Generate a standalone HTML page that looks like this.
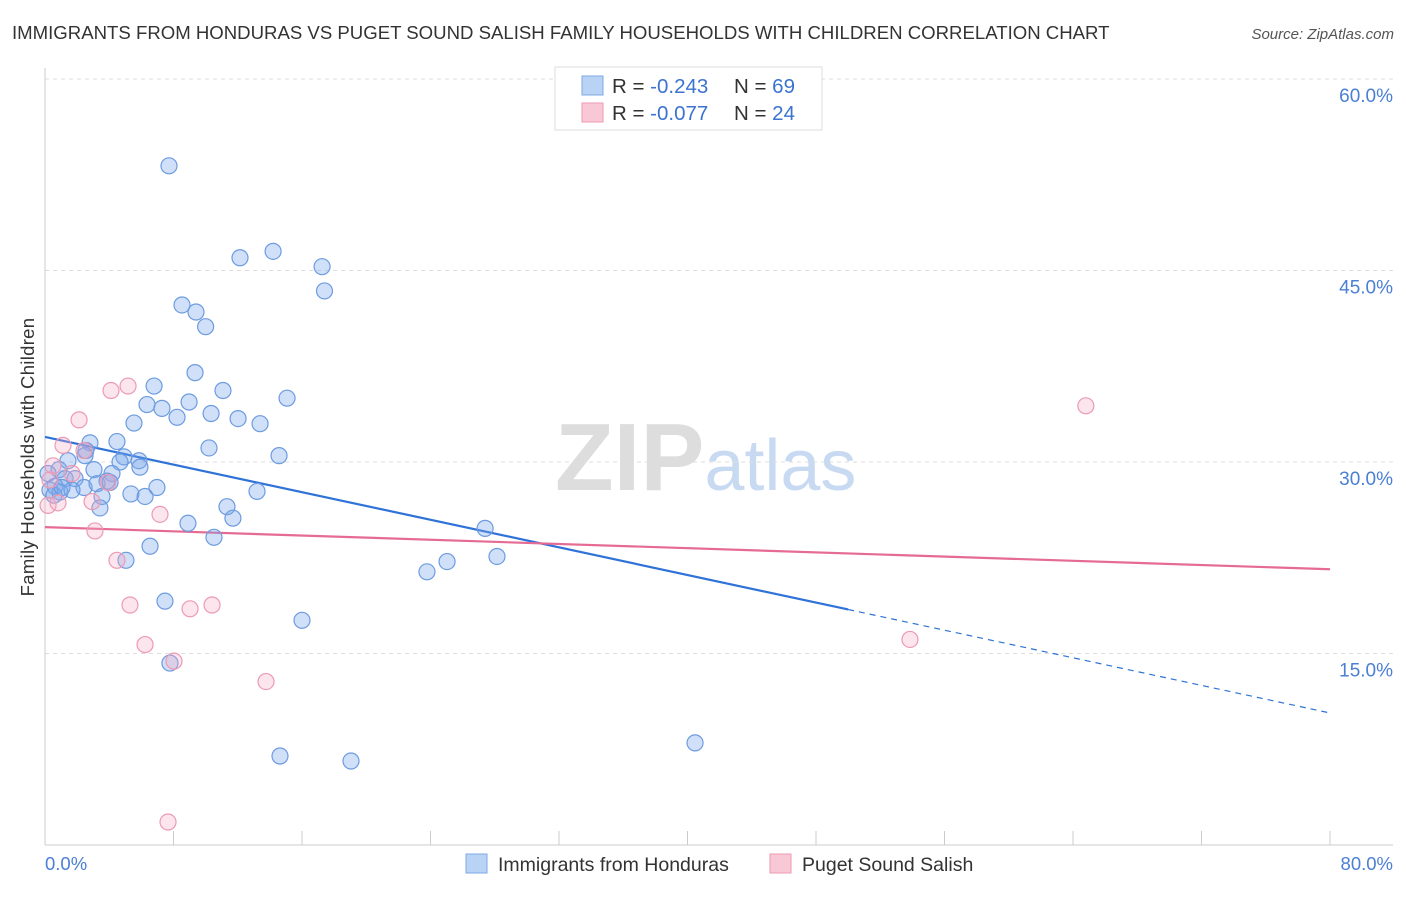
<!DOCTYPE html>
<html><head><meta charset="utf-8"><style>
body{margin:0;background:#fff;font-family:"Liberation Sans",sans-serif}
svg text{font-family:"Liberation Sans",sans-serif}
</style></head><body>
<svg id="chart" width="1406" height="892" viewBox="0 0 1406 892" xmlns="http://www.w3.org/2000/svg">
<text x="12" y="39" font-size="18.6" fill="#333">IMMIGRANTS FROM HONDURAS VS PUGET SOUND SALISH FAMILY HOUSEHOLDS WITH CHILDREN CORRELATION CHART</text>
<text x="1394" y="39" font-size="15" fill="#555" text-anchor="end" font-style="italic">Source: ZipAtlas.com</text>
<text x="555" y="490" font-size="96" fill="#ddd" font-family="Liberation Serif" font-weight="bold">ZIP<tspan fill="#c8daf2" font-family="Liberation Sans" font-weight="normal" font-size="72">atlas</tspan></text>
<g id="grid"></g>
<g id="axes"></g>
<g id="trend"></g>
<g id="pts"></g>
<text transform="translate(34,457) rotate(-90)" font-size="18.5" fill="#333" text-anchor="middle" letter-spacing="0.3">Family Households with Children</text>
<g>
<rect x="555" y="67" width="267" height="63" fill="#fff" stroke="#ddd"/>
<rect x="582" y="76" width="21" height="19" fill="#b9d3f5" stroke="#7fa9e5"/>
<rect x="582" y="103" width="21" height="19" fill="#f9c8d6" stroke="#ee9ab3"/>
<text x="612" y="93" font-size="20.5" fill="#333">R = <tspan fill="#3b73d1">-0.243</tspan><tspan x="734">N = </tspan><tspan fill="#3b73d1">69</tspan></text>
<text x="612" y="120" font-size="20.5" fill="#333">R = <tspan fill="#3b73d1">-0.077</tspan><tspan x="734">N = </tspan><tspan fill="#3b73d1">24</tspan></text>
</g>
<g>
<rect x="466" y="854" width="21" height="19" fill="#b9d3f5" stroke="#7fa9e5"/>
<text x="498" y="871" font-size="19.5" fill="#333">Immigrants from Honduras</text>
<rect x="770" y="854" width="21" height="19" fill="#f9c8d6" stroke="#ee9ab3"/>
<text x="802" y="871" font-size="19.5" fill="#333">Puget Sound Salish</text>
</g>
</svg>
<script>
const blueX=[7.72,12.14,14.2,17.25,17.4,8.53,9.4,10.0,9.34,6.79,11.08,15.07,6.35,7.28,8.97,10.34,8.22,12.02,13.39,5.54,4.48,2.8,2.55,10.21,14.57,4.92,5.85,1.43,3.05,4.17,5.91,0.87,1.25,1.87,3.86,2.43,3.24,0.62,0.31,0.93,0.19,5.35,6.23,6.97,3.55,3.42,11.33,11.7,13.2,8.9,10.52,6.54,5.04,27.4,28.14,25.03,23.78,7.47,16.0,7.78,14.63,19.05,40.47,4.05,1.68,0.56,1.06,2.49,4.67];
const blueY=[53.2,46.0,46.5,45.3,43.4,42.3,41.75,40.6,37.0,35.95,35.6,35.0,34.5,34.2,34.7,33.8,33.5,33.4,33.0,33.05,31.6,31.5,30.9,31.1,30.5,30.4,30.1,30.1,29.4,29.1,29.6,29.4,28.7,28.7,28.5,28.0,28.3,28.1,27.8,27.65,29.1,27.5,27.3,28.0,27.3,26.4,26.5,25.6,27.7,25.2,24.1,23.4,22.3,24.8,22.6,22.2,21.4,19.1,17.6,14.25,6.97,6.58,8.0,28.4,27.8,27.4,28.0,30.5,30.0];
const pinkX=[4.11,5.17,2.12,1.12,2.43,0.5,1.68,0.19,0.81,2.93,3.92,7.16,3.11,4.48,5.29,9.03,10.4,6.23,8.03,13.76,7.66,64.8,53.85,0.31];
const pinkY=[35.6,35.95,33.3,31.3,30.9,29.7,29.1,26.6,26.8,26.9,28.4,25.9,24.6,22.3,18.8,18.5,18.8,15.7,14.4,12.8,1.8,34.4,16.1,28.6];
const yTicks=[15,30,45,60];
const yTickLabels=["15.0%","30.0%","45.0%","60.0%"];
const xTicks=[0,8,16,24,32,40,48,56,64,72,80];
const xTickLabels=["0.0%","80.0%"];
const blueTrend=[31.96,10.34]; const blueSolidEnd=50;
const pinkTrend=[24.9,21.6];
const NS="http://www.w3.org/2000/svg";
const sx=v=>45+v/80*1285, sy=v=>845-v/15*191.5;
function mk(tag,attrs,parent){const e=document.createElementNS(NS,tag);for(const k in attrs)e.setAttribute(k,attrs[k]);document.getElementById(parent).appendChild(e);return e;}
yTicks.forEach((t,i)=>{
 const l=mk('line',{x1:45,x2:1393,y1:sy(t),y2:sy(t),stroke:'#ddd','stroke-dasharray':'4,4'},'grid');
 
 
 const tx=mk('text',{x:1393,y:sy(t)+23,'font-size':19,fill:'#4a7fd4','text-anchor':'end'},'grid');
 tx.textContent=yTickLabels[i];
 
 
});
let a=mk('line',{x1:45,x2:45,y1:68,y2:845,stroke:'#ccc'},'axes');


a=mk('line',{x1:45,x2:1393,y1:845,y2:845,stroke:'#ccc'},'axes');


xTicks.forEach(t=>{const l=mk('line',{x1:sx(t),x2:sx(t),y1:845,y2:831,stroke:'#ccc'},'axes');
 
 });
let t0=mk('text',{x:45,y:870,'font-size':18.5,fill:'#4a7fd4'},'axes');t0.textContent=xTickLabels[0];


let t1=mk('text',{x:1393,y:870,'font-size':18.5,fill:'#4a7fd4','text-anchor':'end'},'axes');t1.textContent=xTickLabels[1];


function ptsDraw(X,Y,fill,stroke,name){X.forEach((x,i)=>{const c=mk('circle',{cx:sx(x),cy:sy(Y[i]),r:8,fill:fill,stroke:stroke,'stroke-width':1.2},'pts');
 
 });}
ptsDraw(blueX,blueY,'rgba(120,165,235,0.35)','#6d9be0','honduras-point');
ptsDraw(pinkX,pinkY,'rgba(245,170,195,0.3)','#ec9ab3','salish-point');
const bm=blueTrend[0]+(blueTrend[1]-blueTrend[0])*blueSolidEnd/80;
let l=mk('line',{x1:sx(0),y1:sy(blueTrend[0]),x2:sx(blueSolidEnd),y2:sy(bm),stroke:'#2f72d8','stroke-width':2.2},'trend');


l=mk('line',{x1:sx(blueSolidEnd),y1:sy(bm),x2:sx(80),y2:sy(blueTrend[1]),stroke:'#2f72d8','stroke-width':1.2,'stroke-dasharray':'6,5'},'trend');


l=mk('line',{x1:sx(0),y1:sy(pinkTrend[0]),x2:sx(80),y2:sy(pinkTrend[1]),stroke:'#e56b93','stroke-width':2.2},'trend');


</script>
</body></html>
